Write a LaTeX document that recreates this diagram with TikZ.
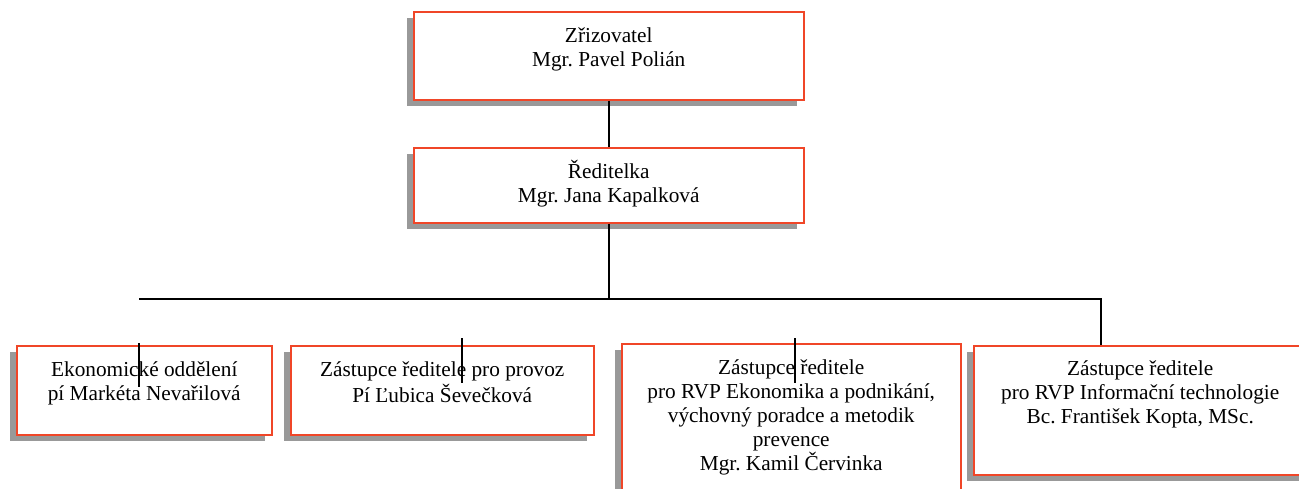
\documentclass[tikz,border=0pt]{standalone}
\usepackage{fontspec}
\setmainfont{Liberation Serif}
\frenchspacing
\usetikzlibrary{shadows}
\definecolor{boxred}{RGB}{240,70,40}
\definecolor{shadowgray}{RGB}{153,153,153}
\begin{document}
\begin{tikzpicture}[x=1pt,y=-1pt,
  orgbox/.style={draw=boxred, line width=1.5pt, fill=white, rectangle, inner sep=0pt,
    anchor=north west,
    drop shadow={shadow xshift=-6.5pt, shadow yshift=-6.5pt, fill=shadowgray, opacity=1, draw=none}},
  boxtext/.style={anchor=north, align=center, inner sep=0pt, font=\fontsize{21.3}{24}\selectfont},
  conn/.style={draw=black, line width=2pt}]
\clip (0,0) rectangle (1299,488);
\fill[white] (0,0) rectangle (1299,488);
% boxes
\node[orgbox, minimum width=390pt, minimum height=88pt] (zriz) at (413,11) {};
\node[orgbox, minimum width=390pt, minimum height=75pt] (red) at (413,147) {};
\node[orgbox, minimum width=255pt, minimum height=89pt] (eko) at (16,345) {};
\node[orgbox, minimum width=303pt, minimum height=89pt] (prov) at (290,345) {};
\node[orgbox, minimum width=339pt, minimum height=160pt] (rvpe) at (621,343) {};
\node[orgbox, minimum width=333pt, minimum height=129pt] (rvpi) at (973,345) {};
% texts
\node[boxtext] (zrizT) at ([yshift=-14.2pt]zriz.north) {\strut Zřizovatel\\Mgr. Pavel Polián};
\node[boxtext] (redT) at ([yshift=-13.2pt]red.north) {\strut Ředitelka\\Mgr. Jana Kapalková};
\node[boxtext] (ekoT) at ([yshift=-14.2pt]eko.north) {\strut Ekonomické oddělení\\pí Markéta Nevařilová};
\node[boxtext] (provT) at ([yshift=-14.2pt]prov.north) {\strut Zástupce ředitele pro provoz\\Pí Ľubica Ševečková};
\node[boxtext] (rvpeT) at ([yshift=-14.2pt]rvpe.north) {\strut Zástupce ředitele\\pro RVP Ekonomika a podnikání,\\výchovný poradce a metodik\\prevence\\Mgr. Kamil Červinka};
\node[boxtext] (rvpiT) at ([yshift=-13.7pt]rvpi.north) {\strut Zástupce ředitele\\pro RVP Informační technologie\\Bc. František Kopta, MSc.};
% connector coordinates
\coordinate (hl) at (139,299);
\coordinate (hr) at (1101,299);
\coordinate (jn) at (red.south |- hl);
\coordinate (ta1) at (139,343);
\coordinate (ta2) at (139,387);
\coordinate (tb1) at (462,338);
\coordinate (tb2) at (462,383);
\coordinate (tc1) at (795,338);
\coordinate (tc2) at (795,383);
% connectors
\draw[conn] (zriz.south) -- (red.north);
\draw[conn] (red.south) -- (jn);
\draw[conn] (hl) -- (hr) -- (hr |- rvpi.north);
\draw[conn] (ta1) -- (ta2);
\draw[conn] (tb1) -- (tb2);
\draw[conn] (tc1) -- (tc2);
\end{tikzpicture}
\end{document}
